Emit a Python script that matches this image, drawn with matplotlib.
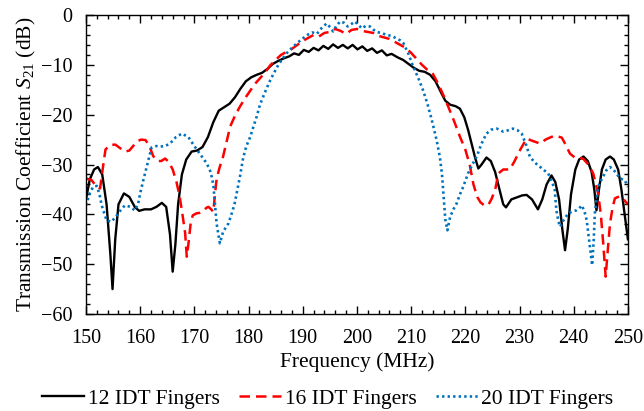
import numpy as np
import matplotlib
matplotlib.use("Agg")
from matplotlib import pyplot as plt
from matplotlib.ticker import MultipleLocator

plt.rcParams["font.family"] = ["Liberation Serif", "DejaVu Serif"]
plt.rcParams["mathtext.fontset"] = "custom"
plt.rcParams["mathtext.rm"] = "Liberation Serif"
plt.rcParams["mathtext.it"] = "Liberation Serif:italic"

# S21 response for each IDT finger count (MHz, dB)
f12 = [150.0, 150.7, 151.5, 152.2, 153.0, 153.8, 154.5, 154.9, 155.4, 156.0, 157.0, 158.0, 159.0, 159.8,
       160.8, 162.0, 163.0, 164.0, 164.8, 165.5, 166.0, 166.5, 167.0, 167.7, 168.5, 169.5, 170.5, 171.5,
       172.5, 173.5, 174.5, 175.5, 176.5, 177.5, 178.5, 179.5, 180.5, 181.5, 182.5, 183.5, 184.5, 185.5,
       186.5, 187.5, 188.4, 189.3, 190.2, 191.1, 192.0, 192.9, 193.8, 194.7, 195.6, 196.5, 197.4, 198.3,
       199.2, 200.1, 201.0, 201.9, 202.8, 203.7, 204.6, 205.5, 206.4, 207.5, 208.5, 209.5, 210.5, 211.5,
       212.5, 213.5, 214.5, 215.5, 216.3, 217.2, 218.2, 219.0, 219.8, 220.5, 221.2, 221.8, 222.4, 223.0,
       223.9, 224.7, 225.5, 226.3, 227.0, 227.5, 228.5, 229.5, 230.5, 231.3, 232.3, 233.4, 234.2, 235.0,
       235.9, 236.6, 237.3, 237.9, 238.4, 238.9, 239.5, 240.3, 241.0, 241.8, 242.6, 243.3, 243.8, 244.2,
       244.6, 245.2, 245.9, 246.7, 247.4, 248.2, 248.8, 249.4, 250.0]
s12 = [-37.0, -33.0, -31.0, -30.5, -32.0, -38.0, -48.0, -55.0, -45.0, -38.0, -35.8, -36.5, -38.5, -39.3,
       -39.0, -39.0, -38.5, -37.7, -38.5, -44.0, -51.5, -46.0, -38.0, -32.0, -29.0, -27.4, -27.2, -26.5,
       -24.5, -21.5, -19.2, -18.5, -17.8, -16.5, -14.8, -13.3, -12.5, -12.0, -11.6, -10.8, -9.8, -9.2,
       -8.7, -8.3, -7.7, -8.0, -7.0, -7.4, -6.6, -7.1, -6.2, -6.8, -5.9, -6.6, -6.0, -6.7,
       -6.0, -6.9, -6.3, -7.2, -6.7, -7.6, -7.1, -8.1, -7.8, -8.5, -9.0, -9.8, -10.6, -11.2,
       -11.4, -12.0, -13.3, -15.5, -17.2, -18.0, -18.3, -18.8, -20.5, -23.0, -26.0, -28.6, -30.8, -30.0,
       -28.6, -29.3, -31.5, -35.0, -38.0, -38.6, -37.0, -36.6, -36.2, -36.1, -37.0, -39.0, -37.0, -34.0,
       -32.2, -33.5, -37.0, -43.0, -47.2, -43.0, -36.0, -31.0, -29.0, -28.4, -29.3, -31.5, -35.0, -39.2,
       -35.5, -31.0, -29.0, -28.4, -29.0, -31.0, -35.0, -40.0, -45.0]

f16 = [150.0, 151.0, 152.0, 152.6, 153.2, 153.6, 154.4, 155.4, 156.4, 157.2, 158.0, 158.7, 159.5, 160.2,
       161.0, 161.7, 162.4, 163.2, 163.9, 164.6, 165.3, 166.0, 166.7, 167.3, 167.8, 168.3, 168.6, 168.9,
       169.3, 169.7, 170.4, 171.0, 171.6, 172.2, 172.6, 173.1, 173.5, 173.8, 174.1, 174.6, 175.3, 176.0,
       176.6, 177.5, 178.4, 179.3, 180.3, 181.2, 182.1, 183.0, 184.0, 185.0, 186.0, 187.0, 188.0, 189.0,
       190.0, 191.0, 192.0, 193.0, 194.0, 195.0, 196.0, 197.0, 198.0, 199.0, 200.0, 201.0, 202.0, 203.0,
       204.0, 205.0, 206.0, 207.0, 208.0, 209.0, 210.0, 211.0, 212.0, 213.0, 214.0, 215.0, 216.0, 217.0,
       218.0, 219.0, 220.0, 220.8, 221.5, 222.2, 222.8, 223.5, 224.2, 224.8, 225.5, 226.1, 227.0, 228.2,
       229.0, 230.1, 231.3, 232.5, 233.8, 234.8, 235.6, 236.5, 237.8, 238.5, 239.3, 240.2, 241.0, 241.8,
       242.7, 243.6, 244.5, 245.0, 245.4, 245.9, 246.3, 246.7, 247.2, 247.6, 248.4, 249.1, 249.6, 250.0]
s16 = [-32.8, -33.1, -34.5, -34.8, -30.0, -27.0, -26.1, -26.0, -26.8, -27.4, -27.2, -26.3, -25.3, -25.0,
       -25.1, -26.3, -28.3, -29.3, -29.3, -28.8, -29.5, -31.0, -33.5, -36.5, -40.0, -43.8, -48.5, -46.0,
       -42.0, -40.2, -39.8, -39.7, -39.4, -38.7, -38.5, -39.0, -39.5, -36.0, -33.0, -30.8, -28.4, -25.2,
       -22.4, -20.2, -18.4, -16.8, -15.2, -13.8, -12.7, -11.6, -10.1, -9.0, -8.0, -7.4, -6.8, -6.0,
       -5.2, -4.6, -4.0, -4.3, -3.6, -3.4, -2.8, -3.2, -3.8, -3.0, -2.8, -3.2, -3.4, -3.6,
       -4.2, -4.5, -4.8, -5.4, -6.0, -6.6, -7.6, -8.8, -10.0, -11.0, -11.8, -13.8, -16.2, -18.8,
       -21.5, -24.4, -27.0, -30.0, -34.0, -36.5, -37.6, -38.2, -38.2, -37.0, -35.1, -31.8, -31.0, -31.0,
       -29.5, -27.1, -24.8, -25.3, -25.8, -25.0, -24.6, -24.2, -24.6, -26.0, -27.8, -28.6, -28.6, -28.9,
       -30.0, -31.8, -35.8, -40.0, -45.2, -52.5, -47.0, -41.8, -38.5, -36.8, -36.4, -36.8, -37.5, -38.0]

f20 = [150.0, 150.7, 151.3, 152.0, 152.5, 152.9, 153.8, 154.7, 155.7, 156.5, 157.2, 158.2, 159.0, 159.6,
       160.0, 160.5, 161.2, 162.1, 163.0, 163.7, 164.6, 165.5, 166.6, 167.7, 168.9, 170.0, 171.3, 172.3,
       173.0, 173.5, 173.8, 174.1, 174.7, 175.3, 176.3, 176.9, 177.4, 177.8, 178.4, 179.0, 179.6, 180.3,
       180.9, 181.5, 182.1, 182.7, 183.3, 184.0, 184.7, 185.5, 186.2, 187.0, 188.0, 188.9, 190.0, 191.0,
       191.8, 192.6, 193.5, 194.4, 195.1, 195.6, 196.2, 196.9, 197.7, 198.3, 199.0, 199.6, 200.3, 200.9,
       201.6, 202.4, 203.0, 203.6, 204.5, 205.5, 206.4, 207.3, 208.0, 208.6, 209.5, 210.4, 211.3, 212.2,
       213.0, 213.8, 214.7, 215.3, 215.7, 216.0, 216.3, 216.7, 217.2, 217.8, 218.4, 219.0, 219.6, 220.5,
       221.3, 222.1, 223.0, 223.9, 224.8, 225.8, 227.0, 228.0, 228.8, 229.6, 230.4, 231.2, 231.9, 232.8,
       233.8, 234.6, 235.3, 236.0, 236.5, 236.8, 237.2, 237.5, 238.1, 239.0, 239.8, 240.5, 241.0, 241.5,
       242.0, 242.4, 243.0, 243.4, 243.7, 243.9, 244.2, 244.5, 245.0, 245.4, 246.0, 246.7, 247.3, 247.9,
       248.5, 249.4, 250.0]
s20 = [-38.2, -35.8, -34.5, -34.3, -36.0, -38.2, -41.2, -41.5, -40.2, -39.0, -38.2, -38.5, -39.2, -38.0,
       -35.8, -33.5, -30.5, -26.6, -26.3, -26.4, -26.3, -25.8, -24.5, -23.8, -24.5, -26.3, -28.3, -29.8,
       -31.5, -34.0, -38.0, -41.8, -45.8, -43.5, -41.8, -39.8, -38.0, -35.8, -32.5, -28.7, -26.3, -24.5,
       -22.4, -20.4, -18.0, -16.4, -14.8, -13.1, -11.6, -10.0, -8.9, -7.7, -6.6, -5.7, -4.7, -3.9,
       -3.5, -3.8, -2.6, -1.7, -2.5, -3.3, -2.2, -1.3, -1.6, -2.3, -1.8, -1.3, -2.0, -2.7,
       -2.2, -2.3, -2.9, -3.4, -3.6, -4.0, -4.2, -4.7, -5.1, -5.7, -7.8, -10.4, -12.6, -15.1,
       -17.8, -21.0, -25.1, -28.5, -32.0, -36.5, -41.0, -43.2, -40.5, -39.0, -37.8, -36.0, -34.5, -31.8,
       -30.0, -28.4, -25.8, -23.8, -23.0, -22.8, -23.4, -23.1, -22.8, -23.1, -23.8, -26.0, -28.4, -29.6,
       -30.5, -31.2, -31.8, -33.5, -35.1, -39.2, -41.5, -42.5, -41.2, -39.8, -39.4, -39.2, -38.8, -38.2,
       -39.5, -41.2, -46.5, -50.2, -45.0, -39.8, -37.0, -34.5, -33.3, -32.5, -31.2, -30.5, -31.0, -31.8,
       -32.8, -33.1, -34.5]

labels = ["12 IDT Fingers", "16 IDT Fingers", "20 IDT Fingers"]

fig = plt.figure(figsize=(6.44, 4.11), dpi=100)
ax = fig.add_axes([0.1335, 0.236, 0.8415, 0.7275])

ax.plot(f12, s12, color="black", linewidth=1.7, label=labels[0])
ax.plot(f16, s16, color="#ff0000", linewidth=1.8, linestyle=(0, (4.2, 2.4)), label=labels[1])
ax.plot(f20, s20, color="#0072bd", linewidth=1.9, linestyle=(0, (0.9, 1.2)), label=labels[2])

ax.set_xlim(150, 250)
ax.set_ylim(-60, 0)
ax.xaxis.set_major_locator(MultipleLocator(10))
ax.xaxis.set_minor_locator(MultipleLocator(2))
ax.yaxis.set_major_locator(MultipleLocator(10))
ax.yaxis.set_minor_locator(MultipleLocator(2))
ax.tick_params(which="both", direction="in", top=True, right=True, labelsize=14.5, width=1.0)
ax.tick_params(which="major", length=6)
ax.tick_params(which="minor", length=3)
ax.tick_params(axis="x", which="major", pad=11)
ax.tick_params(axis="y", which="major", pad=10)
for sp in ax.spines.values():
    sp.set_linewidth(1.0)

ax.set_xlabel("Frequency (MHz)", fontsize=15.5, labelpad=3)
ax.set_ylabel(r"Transmission Coefficient $S_{21}$ (dB)", fontsize=15.5, labelpad=2)

fig.legend(loc="center", bbox_to_anchor=(0.509, 0.03), ncol=3, frameon=False, fontsize=15.5,
           handlelength=1.95, handletextpad=0.17, columnspacing=0.9)

fig.savefig("out.png", dpi=100)
plt.close(fig)
